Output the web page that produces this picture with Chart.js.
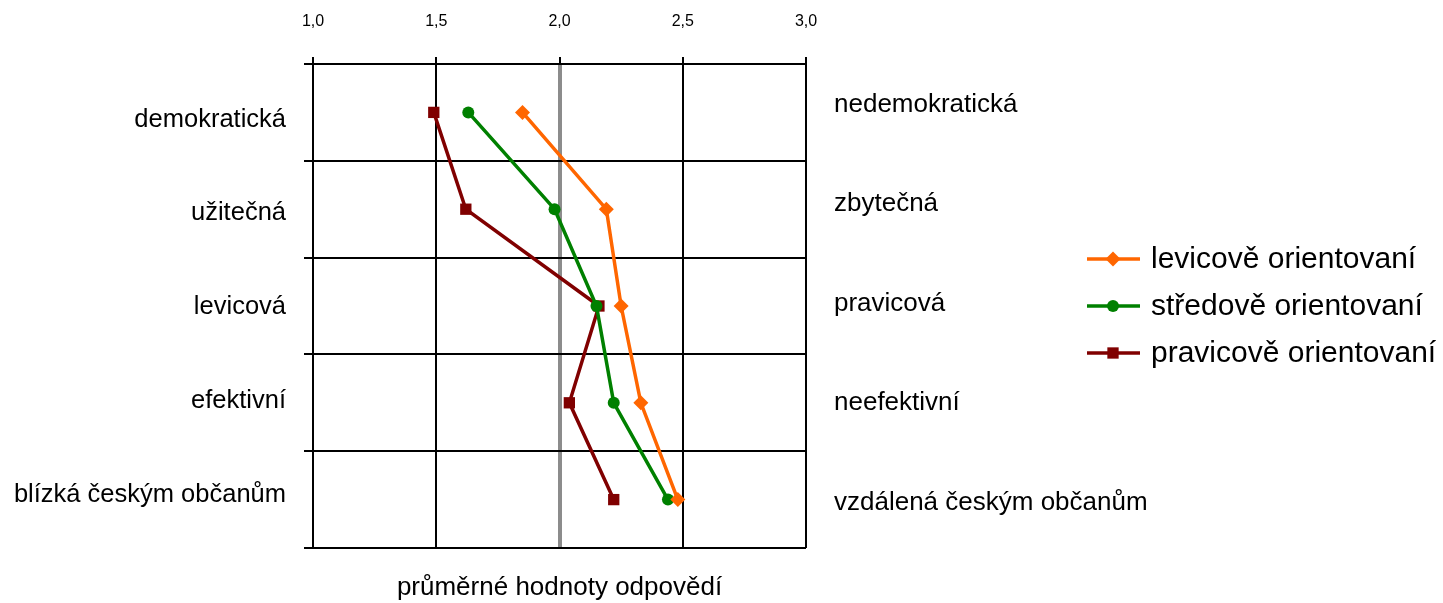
<!DOCTYPE html>
<html>
<head>
<meta charset="utf-8">
<script src="https://cdn.jsdelivr.net/npm/chart.js@4/dist/chart.umd.min.js"></script>
<style>
  html, body { margin: 0; padding: 0; background: #fff; }
  #wrap { width: 1443px; height: 603px; }
</style>
</head>
<body>
<div id="wrap"><canvas id="chart" width="1443" height="603"></canvas></div>
<script>
// kategorie (levá a pravá strana škály)
const leftLabels  = ['demokratická', 'užitečná', 'levicová', 'efektivní', 'blízká českým občanům'];
const rightLabels = ['nedemokratická', 'zbytečná', 'pravicová', 'neefektivní', 'vzdálená českým občanům'];

// průměrné hodnoty odpovědí
const levicove  = [1.85, 2.19, 2.25, 2.33, 2.48];
const stredove  = [1.63, 1.98, 2.15, 2.22, 2.44];
const pravicove = [1.49, 1.62, 2.16, 2.04, 2.22];

const seriesNames = ['levicově orientovaní', 'středově orientovaní', 'pravicově orientovaní'];
const xTicks = [1.0, 1.5, 2.0, 2.5, 3.0];

const FONT = '"Liberation Sans", Arial, sans-serif';

function marker(ctx, style, x, y, r, color) {
  ctx.save();
  ctx.fillStyle = color;
  ctx.beginPath();
  if (style === 'circle') {
    ctx.arc(x, y, r, 0, Math.PI * 2);
  } else if (style === 'rectRot') {
    ctx.moveTo(x, y - r); ctx.lineTo(x + r, y); ctx.lineTo(x, y + r); ctx.lineTo(x - r, y);
    ctx.closePath();
  } else {
    const s = r * Math.SQRT1_2;
    ctx.rect(x - s, y - s, 2 * s, 2 * s);
  }
  ctx.fill();
  ctx.restore();
}

// legenda vpravo: čára + značka + text
const legendPlugin = {
  id: 'sideLegend',
  afterDraw(chart) {
    const ctx = chart.ctx;
    const rows = [259, 306, 353];
    chart.data.datasets.forEach((ds, i) => {
      const y = rows[i];
      ctx.save();
      ctx.strokeStyle = ds.borderColor;
      ctx.lineWidth = 3.5;
      ctx.beginPath();
      ctx.moveTo(1087, y); ctx.lineTo(1140, y);
      ctx.stroke();
      ctx.restore();
      marker(ctx, ds.pointStyle, 1113, y, ds.pointRadius, ds.borderColor);
      ctx.save();
      ctx.fillStyle = '#000';
      ctx.font = '30px ' + FONT;
      ctx.textBaseline = 'middle';
      ctx.textAlign = 'left';
      ctx.fillText(ds.label, 1151, y + 1);
      ctx.restore();
    });
  }
};

const ds = (label, data, color, style, r) => ({
  label, data,
  borderColor: color, backgroundColor: color,
  borderWidth: 3.5,
  pointStyle: style, pointRadius: r, pointHoverRadius: r,
  pointBorderWidth: 0,
  tension: 0, fill: false
});

// osa jen s popisky (textová pole v originálu nesedí přesně na řádky)
const labelAxis = (labels, position, min, max, width, padding, size) => ({
  type: 'linear',
  position,
  weight: 1,
  reverse: true,
  min, max,
  afterBuildTicks: s => { s.ticks = labels.map((_, i) => ({ value: i })); },
  afterFit: s => { s.width = width; },
  ticks: {
    color: '#000',
    font: { family: FONT, size },
    padding,
    callback: v => labels[v]
  },
  grid: { display: false, drawTicks: false },
  border: { display: false }
});

new Chart(document.getElementById('chart'), {
  type: 'line',
  data: {
    labels: leftLabels,
    datasets: [
      ds(seriesNames[0], levicove,  '#FF6600', 'rectRot', 7.5),
      ds(seriesNames[1], stredove,  '#008000', 'circle', 6),
      ds(seriesNames[2], pravicove, '#800000', 'rect', 8),
    ]
  },
  options: {
    indexAxis: 'y',
    responsive: false,
    animation: false,
    layout: { padding: 0 },
    plugins: { legend: { display: false }, tooltip: { enabled: false } },
    scales: {
      x: {
        position: 'top',
        min: 1, max: 3,
        afterBuildTicks: s => { s.ticks = xTicks.map(v => ({ value: v })); },
        afterFit: s => { s.height = 64; },
        ticks: {
          color: '#000',
          font: { family: FONT, size: 16 },
          padding: 26,
          callback: v => Number(v).toFixed(1).replace('.', ',')
        },
        grid: {
          color: c => (c.tick && c.tick.value === 2) ? '#8C8C8C' : '#000',
          lineWidth: c => (c.tick && c.tick.value === 2) ? 4 : 2,
          tickColor: '#000',
          tickWidth: 2,
          tickLength: 7
        },
        border: { display: true, color: '#000', width: 2 }
      },
      x2: {
        position: 'bottom',
        axis: 'x',
        min: 1, max: 3,
        afterFit: s => { s.height = 55; },
        ticks: { display: false },
        grid: { display: false, drawTicks: false },
        border: { display: false },
        title: {
          display: true,
          text: 'průměrné hodnoty odpovědí',
          color: '#000',
          font: { family: FONT, size: 26 },
          padding: { top: 0, bottom: 0 }
        }
      },
      // kategorická osa dat: mřížka a značky vlevo
      y: {
        position: 'left',
        weight: 0,
        offset: true,
        afterFit: s => { s.width = 0; },
        ticks: { display: false },
        grid: {
          offset: true,
          color: '#000',
          lineWidth: 2,
          tickLength: 9
        },
        border: { display: true, color: '#000', width: 2 }
      },
      yL: labelAxis(leftLabels, 'left', -0.592, 4.571, 313, 27, 25.5),
      y2: labelAxis(rightLabels, 'right', -0.406, 4.458, 1443 - 806, 28, 26)
    }
  },
  plugins: [legendPlugin]
});
</script>
</body>
</html>
